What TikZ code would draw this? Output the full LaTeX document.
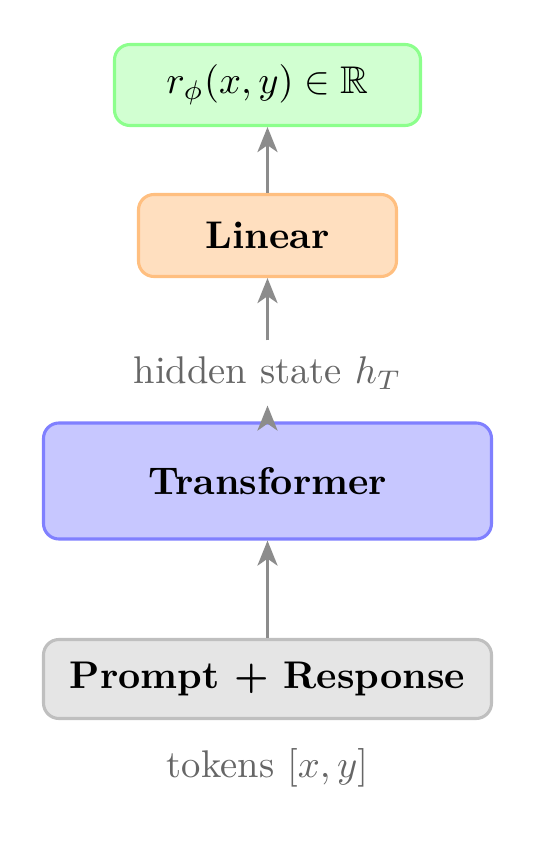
\documentclass[tikz,border=0pt]{standalone}
\usepackage{amssymb}
\usetikzlibrary{arrows.meta}
\begin{document}
\begin{tikzpicture}[x=0.2591pt,y=-0.2591pt,
  blockbox/.style={draw, line width=0.8pt, rounded corners=4pt, align=center, inner sep=0pt},
  lbl/.style={text=black!60, inner sep=4pt},
  conn/.style={draw=black!45, line width=0.8pt, -{Stealth[length=6.5pt,width=5.2pt,inset=1.8pt]}}]
\useasboundingbox (0,0) rectangle (536,842);
\node[blockbox, fill=green!18, draw=green!45, minimum width=306*0.2591pt, minimum height=81*0.2591pt] (out) at (267.5,85) {$r_\phi(x,y) \in \mathbb{R}$};
\node[blockbox, fill=orange!25, draw=orange!50, minimum width=258*0.2591pt, minimum height=82*0.2591pt] (lin) at (267.5,235.5) {\textbf{Linear}};
\node[lbl] (hid) at (267.5,373) {hidden state $h_T$};
\node[blockbox, fill=blue!22, draw=blue!50, minimum width=448*0.2591pt, minimum height=116*0.2591pt] (tr) at (267.5,481) {\textbf{Transformer}};
\node[blockbox, fill=gray!20, draw=gray!50, minimum width=448*0.2591pt, minimum height=79*0.2591pt] (pr) at (267.5,679) {\textbf{Prompt + Response}};
\node[lbl] (tok) at (267.5,767.5) {tokens $[x,y]$};
\draw[conn] (lin.north) -- (out.south);
\draw[conn] (hid.north) -- (lin.south);
\draw[conn] (tr.north) -- (hid.south);
\draw[conn] (pr.north) -- (tr.south);
\end{tikzpicture}
\end{document}
